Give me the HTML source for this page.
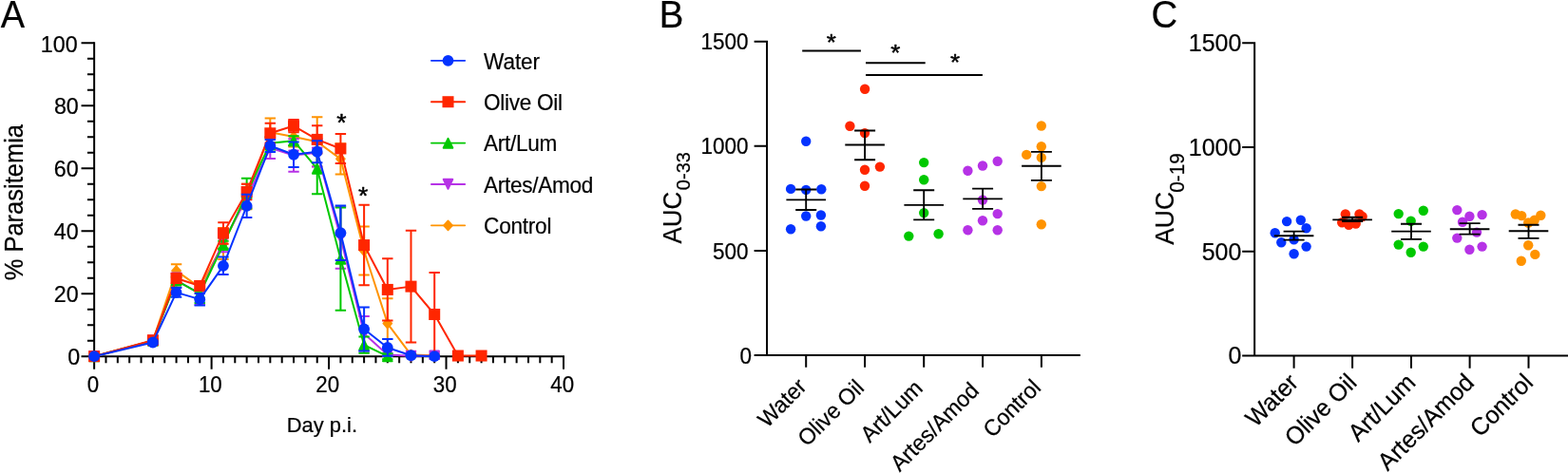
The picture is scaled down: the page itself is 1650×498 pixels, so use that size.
<!DOCTYPE html>
<html lang="en">
<head>
<meta charset="utf-8">
<title>Figure</title>
<style>
html,body{margin:0;padding:0;background:#fff;}
body{width:1650px;height:498px;overflow:hidden;}
svg{display:block;}
.t{font-family:'Liberation Sans', Arial, Helvetica, sans-serif;fill:#000;stroke:#000;stroke-linejoin:round;}
</style>
</head>
<body>
<svg width="1650" height="498" viewBox="0 0 1650 498" role="img" aria-label="Parasitemia time course and AUC scatter plots">
<rect width="1650" height="498" fill="#fff"/>
<g id="panelA">
<text transform="translate(0.8 28.5) scale(1 1.075)" font-size="38" class="t" stroke-width="0.22">A</text>
<g stroke="#000" stroke-width="2.0" fill="none">
<path d="M99.13 44.27V376.2"/>
<path d="M98.13 375.2H594"/>
<path d="M85.53 375.2H99.13M91.93 358.7H99.13M91.93 342.21H99.13M91.93 325.71H99.13M85.53 309.21H99.13M91.93 292.72H99.13M91.93 276.22H99.13M91.93 259.72H99.13M85.53 243.23H99.13M91.93 226.73H99.13M91.93 210.23H99.13M91.93 193.74H99.13M85.53 177.24H99.13M91.93 160.75H99.13M91.93 144.25H99.13M91.93 127.75H99.13M85.53 111.26H99.13M91.93 94.76H99.13M91.93 78.26H99.13M91.93 61.77H99.13M85.53 45.27H99.13M99.13 375.2V388.7M111.48 375.2V382.2M123.82 375.2V382.2M136.17 375.2V382.2M148.52 375.2V382.2M160.86 375.2V382.2M173.21 375.2V382.2M185.56 375.2V382.2M197.9 375.2V382.2M210.25 375.2V382.2M222.6 375.2V388.7M234.94 375.2V382.2M247.29 375.2V382.2M259.64 375.2V382.2M271.98 375.2V382.2M284.33 375.2V382.2M296.68 375.2V382.2M309.02 375.2V382.2M321.37 375.2V382.2M333.72 375.2V382.2M346.06 375.2V388.7M358.41 375.2V382.2M370.76 375.2V382.2M383.11 375.2V382.2M395.45 375.2V382.2M407.8 375.2V382.2M420.15 375.2V382.2M432.49 375.2V382.2M444.84 375.2V382.2M457.19 375.2V382.2M469.53 375.2V388.7M481.88 375.2V382.2M494.23 375.2V382.2M506.57 375.2V382.2M518.92 375.2V382.2M531.27 375.2V382.2M543.61 375.2V382.2M555.96 375.2V382.2M568.31 375.2V382.2M580.65 375.2V382.2M593 375.2V388.7"/>
</g>
<text transform="translate(84.1 384.4) scale(1 1.035)" font-size="23.3" class="t" stroke-width="0.22" text-anchor="end">0</text>
<text transform="translate(82.6 318.48) scale(1 1.035)" font-size="23.3" class="t" stroke-width="0.22" text-anchor="end">20</text>
<text transform="translate(82.7 251.76) scale(1 1.035)" font-size="23.3" class="t" stroke-width="0.22" text-anchor="end">40</text>
<text transform="translate(82.7 186.34) scale(1 1.035)" font-size="23.3" class="t" stroke-width="0.22" text-anchor="end">60</text>
<text transform="translate(82.8 120.02) scale(1 1.035)" font-size="23.3" class="t" stroke-width="0.22" text-anchor="end">80</text>
<text transform="translate(81.7 54.8) scale(1 1.035)" font-size="23.3" class="t" stroke-width="0.22" text-anchor="end">100</text>
<text transform="translate(97.83 412.7) scale(1 1.035)" font-size="22.3" class="t" stroke-width="0.22" text-anchor="middle">0</text>
<text transform="translate(221.3 412.7) scale(1 1.035)" font-size="22.3" class="t" stroke-width="0.22" text-anchor="middle">10</text>
<text transform="translate(344.76 412.7) scale(1 1.035)" font-size="22.3" class="t" stroke-width="0.22" text-anchor="middle">20</text>
<text transform="translate(468.23 412.7) scale(1 1.035)" font-size="22.3" class="t" stroke-width="0.22" text-anchor="middle">30</text>
<text transform="translate(591.7 412.7) scale(1 1.035)" font-size="22.3" class="t" stroke-width="0.22" text-anchor="middle">40</text>
<text transform="translate(23.5 213.15) rotate(-90) scale(1 1.055)" font-size="25.5" class="t" stroke-width="0.22" text-anchor="middle">% Parasitemia</text>
<text transform="translate(338.85 455.2) scale(1 1.035)" font-size="21.95" class="t" stroke-width="0.22" text-anchor="middle">Day p.i.</text>
<g stroke="#ff9300" fill="#ff9300" stroke-width="2" stroke-linejoin="round">
<path d="M160.86 357.05V360.35M155.16 357.05h11.4M155.16 360.35h11.4M185.56 278.2V292.06M179.86 278.2h11.4M179.86 292.06h11.4M210.25 297.67V307.56M204.55 297.67h11.4M204.55 307.56h11.4M234.94 239.93V272.92M229.24 239.93h11.4M229.24 272.92h11.4M259.64 193.74V220.13M253.94 193.74h11.4M253.94 220.13h11.4M284.33 124.45V154.15M278.63 124.45h11.4M278.63 154.15h11.4M309.02 133.36V154.48M303.32 133.36h11.4M303.32 154.48h11.4M333.72 123.13V175.26M328.02 123.13h11.4M328.02 175.26h11.4M358.41 151.18V183.51M352.71 151.18h11.4M352.71 183.51h11.4M383.11 238.61V289.42M377.41 238.61h11.4M377.41 289.42h11.4M407.8 314.16V366.95M402.1 314.16h11.4M402.1 366.95h11.4M432.49 372.23V374.87M426.79 372.23h11.4M426.79 374.87h11.4M457.19 373.22V375.2M451.49 373.22h11.4M451.49 375.2h11.4" fill="none"/>
<polyline points="99.13,375.2 160.86,358.7 185.56,285.13 210.25,302.62 234.94,256.43 259.64,206.94 284.33,139.3 309.02,143.92 333.72,149.2 358.41,167.34 383.11,264.01 407.8,340.56 432.49,373.55 457.19,374.21" fill="none"/>
<path d="M99.13 370.1L103.68 375.2L99.13 380.3L94.58 375.2Z" stroke-width="1.6"/>
<path d="M160.86 353.6L165.41 358.7L160.86 363.8L156.31 358.7Z" stroke-width="1.6"/>
<path d="M185.56 280.03L190.11 285.13L185.56 290.23L181.01 285.13Z" stroke-width="1.6"/>
<path d="M210.25 297.52L214.8 302.62L210.25 307.72L205.7 302.62Z" stroke-width="1.6"/>
<path d="M234.94 251.33L239.49 256.43L234.94 261.53L230.39 256.43Z" stroke-width="1.6"/>
<path d="M259.64 201.84L264.19 206.94L259.64 212.04L255.09 206.94Z" stroke-width="1.6"/>
<path d="M284.33 134.2L288.88 139.3L284.33 144.4L279.78 139.3Z" stroke-width="1.6"/>
<path d="M309.02 138.82L313.57 143.92L309.02 149.02L304.47 143.92Z" stroke-width="1.6"/>
<path d="M333.72 144.1L338.27 149.2L333.72 154.3L329.17 149.2Z" stroke-width="1.6"/>
<path d="M358.41 162.24L362.96 167.34L358.41 172.44L353.86 167.34Z" stroke-width="1.6"/>
<path d="M383.11 258.91L387.66 264.01L383.11 269.11L378.56 264.01Z" stroke-width="1.6"/>
<path d="M407.8 335.46L412.35 340.56L407.8 345.66L403.25 340.56Z" stroke-width="1.6"/>
<path d="M432.49 368.45L437.04 373.55L432.49 378.65L427.94 373.55Z" stroke-width="1.6"/>
<path d="M457.19 369.11L461.74 374.21L457.19 379.31L452.64 374.21Z" stroke-width="1.6"/>
</g>
<g stroke="#b632e6" fill="#b632e6" stroke-width="2" stroke-linejoin="round">
<path d="M160.86 357.05V360.35M155.16 357.05h11.4M155.16 360.35h11.4M185.56 287.44V302.62M179.86 287.44h11.4M179.86 302.62h11.4M210.25 297.34V321.09M204.55 297.34h11.4M204.55 321.09h11.4M234.94 244.22V265.33M229.24 244.22h11.4M229.24 265.33h11.4M259.64 198.69V218.48M253.94 198.69h11.4M253.94 218.48h11.4M284.33 144.58V167.01M278.63 144.58h11.4M278.63 167.01h11.4M309.02 146.23V180.87M303.32 146.23h11.4M303.32 180.87h11.4M333.72 145.9V175.59M328.02 145.9h11.4M328.02 175.59h11.4M358.41 217.49V282.82M352.71 217.49h11.4M352.71 282.82h11.4M383.11 332.97V369.59M377.41 332.97h11.4M377.41 369.59h11.4M407.8 372.23V374.87M402.1 372.23h11.4M402.1 374.87h11.4M457.19 371.41V378M451.49 371.41h11.4M451.49 378h11.4" fill="none"/>
<polyline points="99.13,375.2 160.86,358.7 185.56,295.03 210.25,309.21 234.94,254.78 259.64,208.59 284.33,155.8 309.02,163.55 333.72,160.75 358.41,250.16 383.11,351.28 407.8,373.55 432.49,374.87 457.19,374.71" fill="none"/>
<path d="M99.13 379.95L103.93 370.05H94.33Z" stroke-width="2"/>
<path d="M160.86 363.45L165.66 353.55H156.06Z" stroke-width="2"/>
<path d="M185.56 299.78L190.36 289.88H180.76Z" stroke-width="2"/>
<path d="M210.25 313.96L215.05 304.06H205.45Z" stroke-width="2"/>
<path d="M234.94 259.53L239.74 249.63H230.14Z" stroke-width="2"/>
<path d="M259.64 213.34L264.44 203.44H254.84Z" stroke-width="2"/>
<path d="M284.33 160.55L289.13 150.65H279.53Z" stroke-width="2"/>
<path d="M309.02 168.3L313.82 158.4H304.22Z" stroke-width="2"/>
<path d="M333.72 165.5L338.52 155.6H328.92Z" stroke-width="2"/>
<path d="M358.41 254.91L363.21 245.01H353.61Z" stroke-width="2"/>
<path d="M383.11 356.03L387.91 346.13H378.31Z" stroke-width="2"/>
<path d="M407.8 378.3L412.6 368.4H403Z" stroke-width="2"/>
<path d="M432.49 379.62L437.29 369.72H427.69Z" stroke-width="2"/>
<path d="M457.19 379.46L461.99 369.56H452.39Z" stroke-width="2"/>
</g>
<g stroke="#00c800" fill="#00c800" stroke-width="2" stroke-linejoin="round">
<path d="M160.86 357.05V360.35M155.16 357.05h11.4M155.16 360.35h11.4M185.56 291.4V299.32M179.86 291.4h11.4M179.86 299.32h11.4M210.25 299.32V319.11M204.55 299.32h11.4M204.55 319.11h11.4M234.94 253.79V261.7M229.24 253.79h11.4M229.24 261.7h11.4M259.64 187.8V219.47M253.94 187.8h11.4M253.94 219.47h11.4M284.33 144.25V157.45M278.63 144.25h11.4M278.63 157.45h11.4M309.02 143.26V153.16M303.32 143.26h11.4M303.32 153.16h11.4M333.72 150.85V204.3M328.02 150.85h11.4M328.02 204.3h11.4M358.41 218.48V326.7M352.71 218.48h11.4M352.71 326.7h11.4M383.11 354.58V371.74M377.41 354.58h11.4M377.41 371.74h11.4M407.8 372.23V378.17M402.1 372.23h11.4M402.1 378.17h11.4" fill="none"/>
<polyline points="99.13,375.2 160.86,358.7 185.56,295.36 210.25,309.21 234.94,257.74 259.64,203.64 284.33,150.85 309.02,148.21 333.72,177.57 358.41,272.59 383.11,363.16 407.8,375.2" fill="none"/>
<path d="M99.13 370.45L103.93 380.35H94.33Z" stroke-width="2"/>
<path d="M160.86 353.95L165.66 363.85H156.06Z" stroke-width="2"/>
<path d="M185.56 290.61L190.36 300.51H180.76Z" stroke-width="2"/>
<path d="M210.25 304.46L215.05 314.36H205.45Z" stroke-width="2"/>
<path d="M234.94 252.99L239.74 262.89H230.14Z" stroke-width="2"/>
<path d="M259.64 198.89L264.44 208.79H254.84Z" stroke-width="2"/>
<path d="M284.33 146.1L289.13 156H279.53Z" stroke-width="2"/>
<path d="M309.02 143.46L313.82 153.36H304.22Z" stroke-width="2"/>
<path d="M333.72 172.82L338.52 182.72H328.92Z" stroke-width="2"/>
<path d="M358.41 267.84L363.21 277.74H353.61Z" stroke-width="2"/>
<path d="M383.11 358.41L387.91 368.31H378.31Z" stroke-width="2"/>
<path d="M407.8 370.45L412.6 380.35H403Z" stroke-width="2"/>
</g>
<g stroke="#ff2600" fill="#ff2600" stroke-width="2" stroke-linejoin="round">
<path d="M160.86 356.56V359.86M155.16 356.56h11.4M155.16 359.86h11.4M185.56 288.1V298M179.86 288.1h11.4M179.86 298h11.4M210.25 296.02V305.91M204.55 296.02h11.4M204.55 305.91h11.4M234.94 234.32V256.76M229.24 234.32h11.4M229.24 256.76h11.4M259.64 193.74V210.23M253.94 193.74h11.4M253.94 210.23h11.4M284.33 129.73V150.85M278.63 129.73h11.4M278.63 150.85h11.4M309.02 125.94V139.14M303.32 125.94h11.4M303.32 139.14h11.4M333.72 132.37V161.41M328.02 132.37h11.4M328.02 161.41h11.4M358.41 140.95V171.96M352.71 140.95h11.4M352.71 171.96h11.4M383.11 215.84V300.31M377.41 215.84h11.4M377.41 300.31h11.4M407.8 272.26V337.59M402.1 272.26h11.4M402.1 337.59h11.4M432.49 242.73V360.52M426.79 242.73h11.4M426.79 360.52h11.4M457.19 287.11V374.87M451.49 287.11h11.4M451.49 374.87h11.4" fill="none"/>
<polyline points="99.13,375.2 160.86,358.21 185.56,293.05 210.25,300.97 234.94,245.54 259.64,201.99 284.33,140.29 309.02,132.54 333.72,146.89 358.41,156.46 383.11,258.07 407.8,304.92 432.49,301.63 457.19,330.99 481.88,374.54 506.57,374.54" fill="none"/>
<rect x="93.13" y="369.2" width="12" height="12" stroke="none"/>
<rect x="154.86" y="352.21" width="12" height="12" stroke="none"/>
<rect x="179.56" y="287.05" width="12" height="12" stroke="none"/>
<rect x="204.25" y="294.97" width="12" height="12" stroke="none"/>
<rect x="228.94" y="239.54" width="12" height="12" stroke="none"/>
<rect x="253.64" y="195.99" width="12" height="12" stroke="none"/>
<rect x="278.33" y="134.29" width="12" height="12" stroke="none"/>
<rect x="303.02" y="126.54" width="12" height="12" stroke="none"/>
<rect x="327.72" y="140.89" width="12" height="12" stroke="none"/>
<rect x="352.41" y="150.46" width="12" height="12" stroke="none"/>
<rect x="377.11" y="252.07" width="12" height="12" stroke="none"/>
<rect x="401.8" y="298.92" width="12" height="12" stroke="none"/>
<rect x="426.49" y="295.63" width="12" height="12" stroke="none"/>
<rect x="451.19" y="324.99" width="12" height="12" stroke="none"/>
<rect x="475.88" y="368.54" width="12" height="12" stroke="none"/>
<rect x="500.57" y="368.54" width="12" height="12" stroke="none"/>
</g>
<g stroke="#0433ff" fill="#0433ff" stroke-width="2" stroke-linejoin="round">
<path d="M160.86 358.87V362.17M155.16 358.87h11.4M155.16 362.17h11.4M185.56 302.95V312.84M179.86 302.95h11.4M179.86 312.84h11.4M210.25 308.88V321.42M204.55 308.88h11.4M204.55 321.42h11.4M234.94 270.61V289.09M229.24 270.61h11.4M229.24 289.09h11.4M259.64 204.63V229.04M253.94 204.63h11.4M253.94 229.04h11.4M284.33 146.89V160.09M278.63 146.89h11.4M278.63 160.09h11.4M309.02 149.53V175.92M303.32 149.53h11.4M303.32 175.92h11.4M333.72 148.21V171.3M328.02 148.21h11.4M328.02 171.3h11.4M358.41 216.5V273.91M352.71 216.5h11.4M352.71 273.91h11.4M383.11 323.4V369.59M377.41 323.4h11.4M377.41 369.59h11.4M407.8 357.05V374.87M402.1 357.05h11.4M402.1 374.87h11.4M432.49 373.22V375.2M426.79 373.22h11.4M426.79 375.2h11.4" fill="none"/>
<polyline points="99.13,375.2 160.86,360.52 185.56,307.89 210.25,315.15 234.94,279.85 259.64,216.83 284.33,153.49 309.02,162.73 333.72,159.76 358.41,245.21 383.11,346.5 407.8,365.96 432.49,374.21 457.19,375.2" fill="none"/>
<circle cx="99.13" cy="375.2" r="5.9" stroke="none"/>
<circle cx="160.86" cy="360.52" r="5.9" stroke="none"/>
<circle cx="185.56" cy="307.89" r="5.9" stroke="none"/>
<circle cx="210.25" cy="315.15" r="5.9" stroke="none"/>
<circle cx="234.94" cy="279.85" r="5.9" stroke="none"/>
<circle cx="259.64" cy="216.83" r="5.9" stroke="none"/>
<circle cx="284.33" cy="153.49" r="5.9" stroke="none"/>
<circle cx="309.02" cy="162.73" r="5.9" stroke="none"/>
<circle cx="333.72" cy="159.76" r="5.9" stroke="none"/>
<circle cx="358.41" cy="245.21" r="5.9" stroke="none"/>
<circle cx="383.11" cy="346.5" r="5.9" stroke="none"/>
<circle cx="407.8" cy="365.96" r="5.9" stroke="none"/>
<circle cx="432.49" cy="374.21" r="5.9" stroke="none"/>
<circle cx="457.19" cy="375.2" r="5.9" stroke="none"/>
</g>
<text transform="translate(359.3 137.5) scale(1 0.95)" font-size="26.5" class="t" stroke-width="0.5" text-anchor="middle">*</text>
<text transform="translate(382.2 214.8) scale(1 0.95)" font-size="26.5" class="t" stroke-width="0.5" text-anchor="middle">*</text>
<g stroke="#0433ff" fill="#0433ff" stroke-width="1.8" stroke-linejoin="round" stroke-linecap="round">
<path d="M453.9 63.85H489.2" fill="none"/>
<circle cx="471.5" cy="63.85" r="5.9" stroke="none"/>
</g>
<text transform="translate(509.1 72.7) scale(1 1.065)" font-size="22.6" class="t" stroke-width="0.18" letter-spacing="-0.1">Water</text>
<g stroke="#ff2600" fill="#ff2600" stroke-width="1.8" stroke-linejoin="round" stroke-linecap="round">
<path d="M453.9 107.23H489.2" fill="none"/>
<rect x="465.5" y="101.23" width="12" height="12" stroke="none"/>
</g>
<text transform="translate(509.1 116.08) scale(1 1.065)" font-size="22.6" class="t" stroke-width="0.18" letter-spacing="-0.3">Olive Oil</text>
<g stroke="#00c800" fill="#00c800" stroke-width="1.8" stroke-linejoin="round" stroke-linecap="round">
<path d="M453.9 150.61H489.2" fill="none"/>
<path d="M471.5 145.86L476.3 155.76H466.7Z" stroke-width="2"/>
</g>
<text transform="translate(509.1 159.46) scale(1 1.065)" font-size="22.6" class="t" stroke-width="0.18" letter-spacing="-0.3">Art/Lum</text>
<g stroke="#b632e6" fill="#b632e6" stroke-width="1.8" stroke-linejoin="round" stroke-linecap="round">
<path d="M453.9 193.99H489.2" fill="none"/>
<path d="M471.5 198.74L476.3 188.84H466.7Z" stroke-width="2"/>
</g>
<text transform="translate(509.1 202.84) scale(1 1.065)" font-size="22.6" class="t" stroke-width="0.18" letter-spacing="-0.32">Artes/Amod</text>
<g stroke="#ff9300" fill="#ff9300" stroke-width="1.8" stroke-linejoin="round" stroke-linecap="round">
<path d="M453.9 237.37H489.2" fill="none"/>
<path d="M471.5 232.27L476.05 237.37L471.5 242.47L466.95 237.37Z" stroke-width="1.6"/>
</g>
<text transform="translate(509.1 246.22) scale(1 1.065)" font-size="22.6" class="t" stroke-width="0.18" letter-spacing="-0.25">Control</text>
</g>
<g id="panelB">
<text transform="translate(693.7 28.6) scale(1 1.07)" font-size="38.3" class="t" stroke-width="0.22">B</text>
<g fill="#0433ff">
<circle cx="848.2" cy="148.7" r="5.2"/>
<circle cx="832.1" cy="198.9" r="5.2"/>
<circle cx="848.2" cy="199.9" r="5.2"/>
<circle cx="864.3" cy="199.3" r="5.2"/>
<circle cx="848.2" cy="227.5" r="5.2"/>
<circle cx="863.9" cy="226.5" r="5.2"/>
<circle cx="863.9" cy="238.2" r="5.2"/>
<circle cx="832.1" cy="241.2" r="5.2"/>
</g>
<g fill="#ff2600">
<circle cx="910.1" cy="93.7" r="5.2"/>
<circle cx="894.4" cy="132.7" r="5.2"/>
<circle cx="910" cy="140.1" r="5.2"/>
<circle cx="925.9" cy="175.6" r="5.2"/>
<circle cx="910" cy="178.8" r="5.2"/>
<circle cx="910" cy="195.7" r="5.2"/>
</g>
<g fill="#00c800">
<circle cx="972.2" cy="171.1" r="5.2"/>
<circle cx="972.2" cy="189.2" r="5.2"/>
<circle cx="972.2" cy="224.1" r="5.2"/>
<circle cx="956.3" cy="248.6" r="5.2"/>
<circle cx="987.6" cy="246.2" r="5.2"/>
</g>
<g fill="#b632e6">
<circle cx="1018.4" cy="179.8" r="5.2"/>
<circle cx="1034" cy="174.5" r="5.2"/>
<circle cx="1049.7" cy="169.7" r="5.2"/>
<circle cx="1034" cy="210.5" r="5.2"/>
<circle cx="1049.7" cy="225.1" r="5.2"/>
<circle cx="1034" cy="232.2" r="5.2"/>
<circle cx="1018.4" cy="242.2" r="5.2"/>
<circle cx="1049.7" cy="242.2" r="5.2"/>
</g>
<g fill="#ff9300">
<circle cx="1095.8" cy="132.5" r="5.2"/>
<circle cx="1095.8" cy="154.2" r="5.2"/>
<circle cx="1080.2" cy="162.9" r="5.2"/>
<circle cx="1095.8" cy="165.9" r="5.2"/>
<circle cx="1095.8" cy="196.1" r="5.2"/>
<circle cx="1095.8" cy="236.3" r="5.2"/>
</g>
<path d="M827.4 210.3h41.6M837.2 199.5h22M837.2 221h22M848.2 199.5V221M889.3 152.5h41.6M899.1 137.5h22M899.1 168.2h22M910.1 137.5V168.2M951.4 215.9h41.6M961.2 200.2h22M961.2 231.4h22M972.2 200.2V231.4M1013.3 209.3h41.6M1023.1 198.6h22M1023.1 219.9h22M1034.1 198.6V219.9M1075.1 174.7h41.6M1084.9 159.8h22M1084.9 189.8h22M1095.9 159.8V189.8" stroke="#000" stroke-width="1.85" fill="none"/>
<path d="M844.2 53.6H905.9M911 66.3H973.7M911 78.9H1033.9" stroke="#000" stroke-width="2" fill="none"/>
<path d="M807.05 42.7V375M806.05 374H1136.8M793.6 374H807.05M793.6 263.9H807.05M793.6 153.8H807.05M793.6 43.7H807.05M848.2 374V386.8M910.1 374V386.8M972.2 374V386.8M1034.1 374V386.8M1095.9 374V386.8" stroke="#000" stroke-width="2.0" fill="none"/>
<text transform="translate(791.1 382.66) scale(1 1.035)" font-size="22.5" class="t" stroke-width="0.22" text-anchor="end">0</text>
<text transform="translate(787.5 272.56) scale(1 1.035)" font-size="22.5" class="t" stroke-width="0.22" text-anchor="end">500</text>
<text transform="translate(787.5 162.46) scale(1 1.035)" font-size="22.5" class="t" stroke-width="0.22" text-anchor="end">1000</text>
<text transform="translate(787.5 52.36) scale(1 1.035)" font-size="22.5" class="t" stroke-width="0.22" text-anchor="end">1500</text>
<text transform="translate(717.2 256.6) rotate(-90) scale(1 1.035)" font-size="26" class="t" stroke-width="0.22">AUC<tspan font-size="20.0" dx="1.6" dy="8.7">0-33</tspan></text>
<text transform="translate(850 408.4) rotate(-45) scale(1 1.035)" font-size="23" class="t" stroke-width="0.22" text-anchor="end">Water</text>
<text transform="translate(910.63 409.67) rotate(-45) scale(1 1.035)" font-size="23" class="t" stroke-width="0.22" text-anchor="end">Olive Oil</text>
<text transform="translate(972.23 410.17) rotate(-45) scale(1 1.035)" font-size="23" class="t" stroke-width="0.22" text-anchor="end">Art/Lum</text>
<text transform="translate(1031.66 412.64) rotate(-45) scale(1 1.035)" font-size="23" class="t" stroke-width="0.22" text-anchor="end">Artes/Amod</text>
<text transform="translate(1096.64 409.46) rotate(-45) scale(1 1.035)" font-size="23" class="t" stroke-width="0.22" text-anchor="end">Control</text>
</g>
<text transform="translate(874.85 52.7) scale(1 0.95)" font-size="26" class="t" stroke-width="0.5" text-anchor="middle">*</text>
<text transform="translate(942.2 64) scale(1 0.95)" font-size="26" class="t" stroke-width="0.5" text-anchor="middle">*</text>
<text transform="translate(1005 74.2) scale(1 0.95)" font-size="26" class="t" stroke-width="0.5" text-anchor="middle">*</text>
<g id="panelC">
<text transform="translate(1211.4 28.6) scale(1 1.07)" font-size="38.3" class="t" stroke-width="0.22">C</text>
<g fill="#0433ff">
<circle cx="1354.1" cy="233.1" r="5.2"/>
<circle cx="1368.8" cy="231.7" r="5.2"/>
<circle cx="1374.6" cy="240.2" r="5.2"/>
<circle cx="1341.7" cy="245.2" r="5.2"/>
<circle cx="1361.6" cy="252.2" r="5.2"/>
<circle cx="1348.3" cy="255.2" r="5.2"/>
<circle cx="1374.6" cy="259.6" r="5.2"/>
<circle cx="1361.6" cy="267.3" r="5.2"/>
</g>
<g fill="#ff2600">
<circle cx="1415.8" cy="225.5" r="5.2"/>
<circle cx="1430.5" cy="225.5" r="5.2"/>
<circle cx="1433.6" cy="228" r="5.2"/>
<circle cx="1412.2" cy="234.3" r="5.2"/>
<circle cx="1419.3" cy="236.8" r="5.2"/>
<circle cx="1426.7" cy="235.5" r="5.2"/>
</g>
<g fill="#00c800">
<circle cx="1471.7" cy="225.1" r="5.2"/>
<circle cx="1497.8" cy="221.7" r="5.2"/>
<circle cx="1484.7" cy="232.7" r="5.2"/>
<circle cx="1471.7" cy="257.6" r="5.2"/>
<circle cx="1497.8" cy="259.6" r="5.2"/>
<circle cx="1484.7" cy="265.7" r="5.2"/>
</g>
<g fill="#b632e6">
<circle cx="1533.3" cy="221.1" r="5.2"/>
<circle cx="1546.4" cy="227.7" r="5.2"/>
<circle cx="1559.6" cy="226.1" r="5.2"/>
<circle cx="1539" cy="233.7" r="5.2"/>
<circle cx="1554" cy="244.6" r="5.2"/>
<circle cx="1533.3" cy="250.6" r="5.2"/>
<circle cx="1559.6" cy="259.6" r="5.2"/>
<circle cx="1546.4" cy="262.7" r="5.2"/>
</g>
<g fill="#ff9300">
<circle cx="1594.8" cy="225.5" r="5.2"/>
<circle cx="1601.2" cy="227.1" r="5.2"/>
<circle cx="1621.3" cy="226.7" r="5.2"/>
<circle cx="1614.7" cy="231.7" r="5.2"/>
<circle cx="1608.2" cy="234.5" r="5.2"/>
<circle cx="1608.2" cy="258.2" r="5.2"/>
<circle cx="1615.3" cy="267.9" r="5.2"/>
<circle cx="1600.8" cy="274.7" r="5.2"/>
</g>
<path d="M1340.8 248.2h41.6M1350.6 243.6h22M1350.6 252.6h22M1361.6 243.6V252.6M1402.3 231.3h41.6M1412.1 228.7h22M1412.1 233h22M1423.1 228.7V233M1464.2 243.6h41.6M1474 235.7h22M1474 251.8h22M1485 235.7V251.8M1525.8 241.2h41.6M1535.6 235.1h22M1535.6 246.6h22M1546.6 235.1V246.6M1587.7 243.2h41.6M1597.5 236.7h22M1597.5 250.8h22M1608.5 236.7V250.8" stroke="#000" stroke-width="1.85" fill="none"/>
<path d="M1320.15 44.3V375.5M1319.15 374.5H1652M1307.15 374.5H1320.15M1307.15 264.77H1320.15M1307.15 155.03H1320.15M1307.15 45.3H1320.15M1361.6 374.5V387.7M1423.1 374.5V387.7M1485 374.5V387.7M1546.6 374.5V387.7M1608.5 374.5V387.7" stroke="#000" stroke-width="2.0" fill="none"/>
<text transform="translate(1306.4 383.47) scale(1 1.035)" font-size="25" class="t" stroke-width="0.22" text-anchor="end">0</text>
<text transform="translate(1306.4 273.74) scale(1 1.035)" font-size="25" class="t" stroke-width="0.22" text-anchor="end">500</text>
<text transform="translate(1306.4 164) scale(1 1.035)" font-size="25" class="t" stroke-width="0.22" text-anchor="end">1000</text>
<text transform="translate(1306.4 54.27) scale(1 1.035)" font-size="25" class="t" stroke-width="0.22" text-anchor="end">1500</text>
<text transform="translate(1235.2 257.8) rotate(-90) scale(1 1.035)" font-size="26.5" class="t" stroke-width="0.22">AUC<tspan font-size="20.8" dx="-0.9" dy="10.05">0-19</tspan></text>
<text transform="translate(1367.7 404.3) rotate(-45) scale(1 1.035)" font-size="25" class="t" stroke-width="0.22" text-anchor="end">Water</text>
<text transform="translate(1429.2 404.3) rotate(-45) scale(1 1.035)" font-size="25" class="t" stroke-width="0.22" text-anchor="end">Olive Oil</text>
<text transform="translate(1491.1 404.3) rotate(-45) scale(1 1.035)" font-size="25" class="t" stroke-width="0.22" text-anchor="end">Art/Lum</text>
<text transform="translate(1552.7 404.3) rotate(-45) scale(1 1.035)" font-size="25" class="t" stroke-width="0.22" text-anchor="end">Artes/Amod</text>
<text transform="translate(1614.6 404.3) rotate(-45) scale(1 1.035)" font-size="25" class="t" stroke-width="0.22" text-anchor="end">Control</text>
</g>
</svg>
</body>
</html>
